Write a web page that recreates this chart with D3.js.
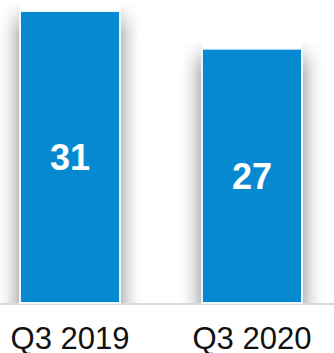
<!DOCTYPE html>
<html>
<head>
<meta charset="utf-8">
<script src="https://cdn.jsdelivr.net/npm/d3@7"></script>
<style>
  html, body { margin: 0; padding: 0; background: #ffffff; }
  svg { display: block; }
</style>
</head>
<body>
<svg id="chart" width="334" height="353"></svg>
<script>
// Quarterly values
const categories = ["Q3 2019", "Q3 2020"];
const values = [31, 27];

const width = 334, height = 353;
const baseY = 303;

const svg = d3.select("#chart");

const x = d3.scaleBand()
  .domain(categories)
  .range([20, 302])
  .paddingInner(0.45)
  .paddingOuter(0);

const y = d3.scaleLinear()
  .domain([0, d3.max(values)])
  .range([baseY, 11]);

const data = categories.map((c, i) => ({ cat: c, val: values[i] }));

const defs = svg.append("defs");

// Horizontal fade used for the side shadows of each bar
function fade(id, x1, x2) {
  const g = defs.append("linearGradient").attr("id", id)
    .attr("x1", x1).attr("x2", x2).attr("y1", "0").attr("y2", "0");
  g.append("stop").attr("offset", "0").attr("stop-color", "#a8a8a8").attr("stop-opacity", 0.8);
  g.append("stop").attr("offset", "0.4").attr("stop-color", "#bdbdbd").attr("stop-opacity", 0.4);
  g.append("stop").attr("offset", "1").attr("stop-color", "#ffffff").attr("stop-opacity", 0);
}
fade("fadeL", "1", "0");
fade("fadeR", "0", "1");

// Vertical fade so the shadows soften towards the bar tops
const topFade = defs.append("linearGradient").attr("id", "topFade")
  .attr("x1", "0").attr("x2", "0").attr("y1", "0").attr("y2", "1");
topFade.append("stop").attr("offset", "0").attr("stop-color", "#fff").attr("stop-opacity", 0);
topFade.append("stop").attr("offset", "1").attr("stop-color", "#fff").attr("stop-opacity", 1);

const shadowW = 24;
const shadows = svg.append("g");

data.forEach((d, i) => {
  const x0 = x(d.cat), x1 = x0 + x.bandwidth();
  const top = y(d.val);
  const m = defs.append("mask").attr("id", "m" + i)
    .attr("maskUnits", "userSpaceOnUse")
    .attr("x", 0).attr("y", 0).attr("width", width).attr("height", height);
  m.append("rect").attr("x", 0).attr("width", width)
    .attr("y", top - 8).attr("height", 30).attr("fill", "url(#topFade)");
  m.append("rect").attr("x", 0).attr("width", width)
    .attr("y", top + 22).attr("height", baseY - top - 22).attr("fill", "#fff");
  const g = shadows.append("g").attr("mask", `url(#m${i})`);
  g.append("rect")
    .attr("x", x0 - shadowW).attr("y", top - 8)
    .attr("width", shadowW).attr("height", baseY - top + 8)
    .attr("fill", "url(#fadeL)");
  g.append("rect")
    .attr("x", x1).attr("y", top - 8)
    .attr("width", shadowW).attr("height", baseY - top + 8)
    .attr("fill", "url(#fadeR)");
});

// Baseline
svg.append("rect")
  .attr("x", 0)
  .attr("y", baseY)
  .attr("width", width)
  .attr("height", 2)
  .attr("fill", "#dadada");

// Bars
svg.append("g")
  .selectAll("rect")
  .data(data)
  .join("rect")
  .attr("x", d => x(d.cat))
  .attr("y", d => y(d.val))
  .attr("width", x.bandwidth())
  .attr("height", d => baseY - y(d.val))
  .attr("fill", "#0789D2")
  .attr("stroke", "#f2f9fd")
  .attr("stroke-width", 2);

// Value labels inside the bars
svg.append("g")
  .selectAll("text")
  .data(data)
  .join("text")
  .attr("x", d => x(d.cat) + x.bandwidth() / 2)
  .attr("y", d => (y(d.val) + baseY) / 2)
  .attr("dy", "0.36em")
  .attr("text-anchor", "middle")
  .attr("fill", "#ffffff")
  .attr("font-family", "'Liberation Sans', Arial, sans-serif")
  .attr("font-weight", "bold")
  .attr("font-size", 36)
  .text(d => d.val);

// Category labels
svg.append("g")
  .selectAll("text")
  .data(categories)
  .join("text")
  .attr("x", d => x(d) + x.bandwidth() / 2)
  .attr("y", 349)
  .attr("text-anchor", "middle")
  .attr("fill", "#111111")
  .attr("font-family", "'Liberation Sans', Arial, sans-serif")
  .attr("font-size", 31)
  .text(d => d);
</script>
</body>
</html>
